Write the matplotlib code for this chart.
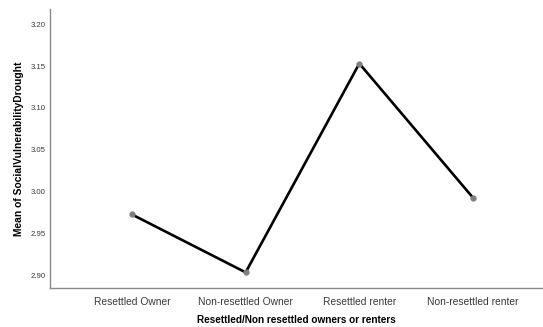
import matplotlib
matplotlib.use("Agg")
import matplotlib.pyplot as plt

categories = ["Resettled Owner", "Non-resettled Owner", "Resettled renter", "Non-resettled renter"]
means = [2.973, 2.904, 3.153, 2.993]
y_ticks = [2.90, 2.95, 3.00, 3.05, 3.10, 3.15, 3.20]

plt.rcParams["font.family"] = ["Liberation Sans", "DejaVu Sans"]

fig = plt.figure(figsize=(5.43, 3.27), dpi=100)
ax = fig.add_axes([50 / 543, (327 - 288.3) / 327, 1 - 50 / 543, (288.3 - 9) / 327])

x = list(range(len(categories)))
ax.plot(x, means, color="black", lw=1.9, zorder=2)
ax.plot(x, means, ls="none", marker="o", ms=3.5, color="#7f7f7f", mec="#7f7f7f", zorder=3)

ax.set_xlim(-0.721, 3.616)
ax.set_ylim(2.885, 3.218)
ax.set_xticks(x)
ax.set_xticklabels(categories, fontsize=7.4, color="#3a3a3a")
ax.set_yticks(y_ticks)
ax.set_yticklabels([f"{v:.2f}" for v in y_ticks], fontsize=5.6, color="#3a3a3a")
ax.tick_params(axis="both", length=0)
ax.tick_params(axis="x", pad=6)
ax.tick_params(axis="y", pad=3)

for side in ("top", "right"):
    ax.spines[side].set_visible(False)
for side in ("left", "bottom"):
    ax.spines[side].set_color("#8a8a8a")
    ax.spines[side].set_linewidth(1.0)

ax.set_xlabel("Resettled/Non resettled owners or renters", fontsize=7.2, fontweight="bold", labelpad=6)
ax.set_ylabel("Mean of SocialVulnerabilityDrought", fontsize=7.4, fontweight="bold", labelpad=5)

fig.savefig("out.png", dpi=100)
